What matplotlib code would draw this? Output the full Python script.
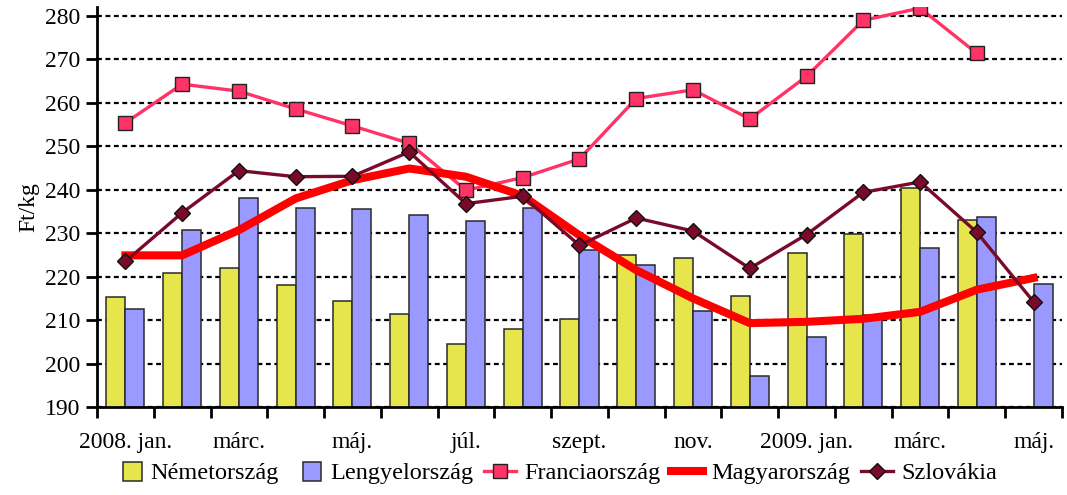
import numpy as np
import matplotlib
matplotlib.use('Agg')
import matplotlib.pyplot as plt
import matplotlib.patches as mpatches
from matplotlib.lines import Line2D
from matplotlib.legend_handler import HandlerPatch

months = ['2008. jan.', '', 'márc.', '', 'máj.', '', 'júl.', '', 'szept.', '',
          'nov.', '', '2009. jan.', '', 'márc.', '', 'máj.']

nemet = [215.3, 220.9, 221.9, 218.0, 214.4, 211.5, 204.4, 208.0, 210.3, 225.0,
         224.2, 215.6, 225.5, 229.8, 240.3, 233.0, np.nan]
lengyel = [212.5, 230.8, 238.0, 235.7, 235.5, 234.3, 232.8, 235.8, 226.2, 222.7,
           212.0, 197.1, 206.1, 211.2, 226.6, 233.8, 218.3]
francia = [255.4, 264.3, 262.7, 258.6, 254.7, 250.7, 239.9, 242.8, 247.1, 261.0,
           263.0, 256.3, 266.1, 279.0, 281.8, 271.4, np.nan]
magyar = [224.9, 224.9, 230.7, 238.0, 242.2, 244.9, 243.0, 238.6, 229.5, 221.5,
          215.0, 209.3, 209.6, 210.3, 211.9, 217.0, 219.7]
szlovak = [223.5, 234.7, 244.4, 243.0, 243.1, 248.7, 236.8, 238.5, 227.2, 233.5,
           230.5, 221.9, 229.7, 239.4, 241.8, 230.2, 214.2]

plt.rcParams['font.family'] = ['Liberation Serif', 'DejaVu Serif']
fs = 17

fig = plt.figure(figsize=(10.67, 4.95), dpi=100)
ax = fig.add_axes([0.0909, 0.1778, 0.9044, 0.8075])

x = np.arange(len(months))
w = 0.335
edge = '#2a2a2a'
ax.bar(x - w / 2, nemet, w, color='#E6E64C', edgecolor=edge, linewidth=1.1, zorder=2)
ax.bar(x + w / 2, lengyel, w, color='#9999FF', edgecolor=edge, linewidth=1.1, zorder=2)

ax.plot(x, francia, color='#FF3366', lw=2.4, marker='s', ms=10,
        mfc='#FF3366', mec='#222222', mew=1.0, zorder=3)
ax.plot(x, magyar, color='#FF0000', lw=5.8, solid_joinstyle='round', zorder=4)
ax.plot(x, szlovak, color='#7A0A2A', lw=2.4, marker='D', ms=8,
        mfc='#7A0A2A', mec='#111111', mew=1.0, zorder=5)

ax.set_xlim(-0.5, len(months) - 0.5)
ax.set_ylim(190, 282)
ax.set_yticks(np.arange(190, 281, 10))

ax.set_xticks(x[::2])
ax.set_xticklabels(months[::2])
ax.set_xticks(np.arange(-0.5, len(months)), minor=True)
ax.tick_params(axis='x', which='major', length=0, pad=18, labelsize=fs)
ax.tick_params(axis='x', which='minor', length=8, width=2, direction='out')
ax.tick_params(axis='y', length=8, width=2, direction='out', pad=4, labelsize=fs)

for s in ['top', 'right']:
    ax.spines[s].set_visible(False)
for s in ['left', 'bottom']:
    ax.spines[s].set_linewidth(2)
    ax.spines[s].set_zorder(6)

ax.yaxis.grid(True, color='black', linewidth=1.6, linestyle=(0, (2.2, 1.6)))
ax.set_axisbelow(True)
ax.set_ylabel('Ft/kg', fontsize=fs, labelpad=4)


def square(legend, orig_handle, xdescent, ydescent, width, height, fontsize):
    side = height * 1.1
    return mpatches.Rectangle((width - side - xdescent, -ydescent - 1), side, side)


handles = [
    mpatches.Patch(facecolor='#E6E64C', edgecolor=edge, linewidth=1.1),
    mpatches.Patch(facecolor='#9999FF', edgecolor=edge, linewidth=1.1),
    Line2D([], [], color='#FF3366', lw=2.4, marker='s', ms=10, mfc='#FF3366', mec='#222222'),
    Line2D([], [], color='#FF0000', lw=5.8),
    Line2D([], [], color='#7A0A2A', lw=2.4, marker='D', ms=8, mfc='#7A0A2A', mec='#111111'),
]
labels = ['Németország', 'Lengyelország', 'Franciaország', 'Magyarország', 'Szlovákia']
fig.legend(handles, labels, loc='center', bbox_to_anchor=(0.519, 0.044), ncol=5,
           frameon=False, fontsize=17.5, handlelength=1.3, handletextpad=0.35,
           columnspacing=0.45, handler_map={mpatches.Patch: HandlerPatch(patch_func=square)})

fig.savefig('out.png', dpi=100)
